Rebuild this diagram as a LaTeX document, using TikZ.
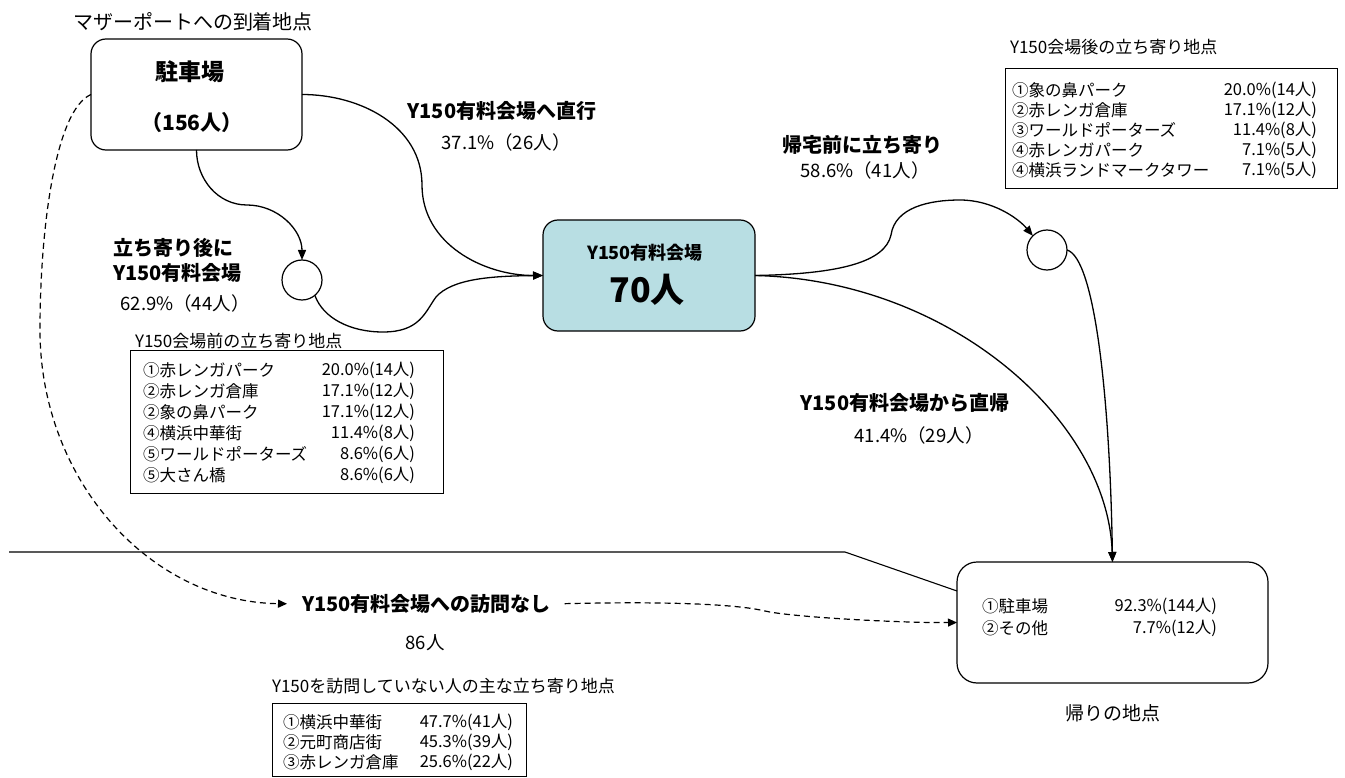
\documentclass[tikz,border=0pt]{standalone}
\usepackage{fontspec}
\setmainfont{Noto Sans CJK JP}
\usetikzlibrary{arrows.meta}
\definecolor{venuefill}{RGB}{184,222,227}
\begin{document}
\begin{tikzpicture}[x=1pt,y=-1pt,
  every node/.style={inner sep=0pt, outer sep=0pt},
  lbl/.style={font=\fontsize{18.5}{22}\selectfont},
  ttl/.style={font=\fontsize{17}{21}\selectfont},
  blbl/.style={font=\fontsize{20}{26}\selectfont\bfseries},
  tbl/.style={font=\fontsize{16.5}{21}\selectfont},
  roundbox/.style={draw, line width=1.2pt, rounded corners=15pt},
  tablebox/.style={draw, line width=1pt},
  flowarrow/.style={line width=1.3pt, -{Triangle[length=10pt,width=8pt]}},
  lineplain/.style={line width=1.1pt},
  dashflow/.style={line width=1.2pt, dash pattern=on 6pt off 4pt, -{Triangle[length=9pt,width=8pt]}},
  stopc/.style={draw, circle, minimum size=40pt, line width=1.2pt, fill=white},
]
\useasboundingbox (0,0) rectangle (1345,778);

% ---- boxes ----
\node[roundbox, minimum width=211pt, minimum height=111pt] (park) at (196.5,94.5) {};
\node[roundbox, fill=venuefill, minimum width=212pt, minimum height=111pt] (venue) at (649,275.5) {};
\node[roundbox, rounded corners=20pt, minimum width=311pt, minimum height=121pt] (ret) at (1112.5,622.5) {};
\node[stopc] (c1) at (302,280) {};
\node[stopc] (c2) at (1047,250) {};

\node[tablebox, minimum width=313pt, minimum height=143pt] (tabA) at (286.5,421.5) {};
\node[tablebox, minimum width=332pt, minimum height=120pt] (tabB) at (1171,129) {};
\node[tablebox, minimum width=254pt, minimum height=73pt] (tabC) at (399,739.5) {};

% ---- texts ----
\node[font=\fontsize{20}{24}\selectfont] (arrtitle) at (193,22) {マザーポートへの到着地点};
\node[font=\fontsize{23}{27}\selectfont\bfseries] (parkname) at (190,72) {駐車場};
\node[font=\fontsize{21}{25}\selectfont\bfseries] (parknum) at (192,123) {（156人）};

\node[font=\fontsize{18}{22}\selectfont\bfseries] (venuename) at (645,253) {Y150有料会場};
\node[font=\fontsize{34}{40}\selectfont\bfseries] (venuenum) at (647,290) {70人};

\node[blbl] (direct) at (502,111) {Y150有料会場へ直行};
\node[lbl] (directp) at (506,142) {37.1\%（26人）};

\node[blbl, anchor=west] (via1) at (113,248) {立ち寄り後に};
\node[blbl, anchor=west] (via2) at (113,273) {Y150有料会場};
\node[lbl] (viap) at (185,303) {62.9\%（44人）};

\node[blbl] (home) at (862,145) {帰宅前に立ち寄り};
\node[lbl] (homep) at (865,170) {58.6\%（41人）};

\node[blbl] (back) at (905,403) {Y150有料会場から直帰};
\node[lbl] (backp) at (919,435) {41.4\%（29人）};

\node[blbl, anchor=west] (nashi) at (302,604) {Y150有料会場への訪問なし};
\node[lbl] (naship) at (425,643) {86人};

\node[ttl, anchor=west] (tabAt) at (135,341) {Y150会場前の立ち寄り地点};
\node[ttl, anchor=west] (tabBt) at (1010,47) {Y150会場後の立ち寄り地点};
\node[ttl, anchor=west] (tabCt) at (272,686) {Y150を訪問していない人の主な立ち寄り地点};
\node[font=\fontsize{19}{23}\selectfont] (rettitle) at (1113,713) {帰りの地点};

\foreach \t/\v [count=\i] in {①赤レンガパーク/20.0\%(14人),②赤レンガ倉庫/17.1\%(12人),②象の鼻パーク/17.1\%(12人),④横浜中華街/11.4\%(8人),⑤ワールドポーターズ/8.6\%(6人),⑤大さん橋/8.6\%(6人)}{
  \node[tbl, anchor=west] (ta\i) at (143,349+21*\i) {\t};
  \node[tbl, anchor=east] (tav\i) at (415,349+21*\i) {\v};
}
\foreach \t/\v [count=\i] in {①象の鼻パーク/20.0\%(14人),②赤レンガ倉庫/17.1\%(12人),③ワールドポーターズ/11.4\%(8人),④赤レンガパーク/7.1\%(5人),④横浜ランドマークタワー/7.1\%(5人)}{
  \node[tbl, anchor=west] (tb\i) at (1012,70+20*\i) {\t};
  \node[tbl, anchor=east] (tbv\i) at (1317,70+20*\i) {\v};
}
\foreach \t/\v [count=\i] in {①横浜中華街/47.7\%(41人),②元町商店街/45.3\%(39人),③赤レンガ倉庫/25.6\%(22人)}{
  \node[tbl, anchor=west] (tc\i) at (283,702+20*\i) {\t};
  \node[tbl, anchor=east] (tcv\i) at (513,702+20*\i) {\v};
}
\foreach \t/\v [count=\i] in {①駐車場/92.3\%(144人),②その他/7.7\%(12人)}{
  \node[tbl, anchor=west] (td\i) at (982,584+22*\i) {\t};
  \node[tbl, anchor=east] (tdv\i) at (1217,584+22*\i) {\v};
}

% ---- connectors ----
\draw[flowarrow] (park.east) to[out=0,in=90] (422,185) to[out=-90,in=180] (venue.west);
\draw[flowarrow] (park.south) to[out=-90,in=180] (247,205) to[out=0,in=90] (c1.north);
\draw[flowarrow] (c1.-50) .. controls (323,318) and (350,332) .. (383,332)
   .. controls (420,332) and (425,312) .. (436,297)
   .. controls (452,279) and (490,276) .. (venue.west);
\draw[flowarrow] (venue.east) .. controls (840,274) and (885,262) .. (891,235)
   .. controls (895,207) and (930,200) .. (960,200)
   .. controls (992,200) and (1018,218) .. (c2.135);
\draw[flowarrow] (c2.east) .. controls (1095,258) and (1110,400) .. (ret.north);
\draw[flowarrow] (venue.east) .. controls (950,280) and (1108,420) .. (ret.north);

\draw[dashflow, shorten >=15pt] (park.west) .. controls (55,110) and (40,230) .. (40,330)
   .. controls (40,480) and (150,602) .. (nashi.west);
\draw[dashflow, shorten <=14pt] (nashi.east) .. controls (680,601) and (740,605) .. (765,611)
   .. controls (790,617) and (900,623) .. (ret.west);

\coordinate (hlstart) at (9,552);
\coordinate (hlbend) at (845,552);
\draw[lineplain] (hlstart) -- (hlbend) -- (ret.west |- 0,591);
\end{tikzpicture}
\end{document}
